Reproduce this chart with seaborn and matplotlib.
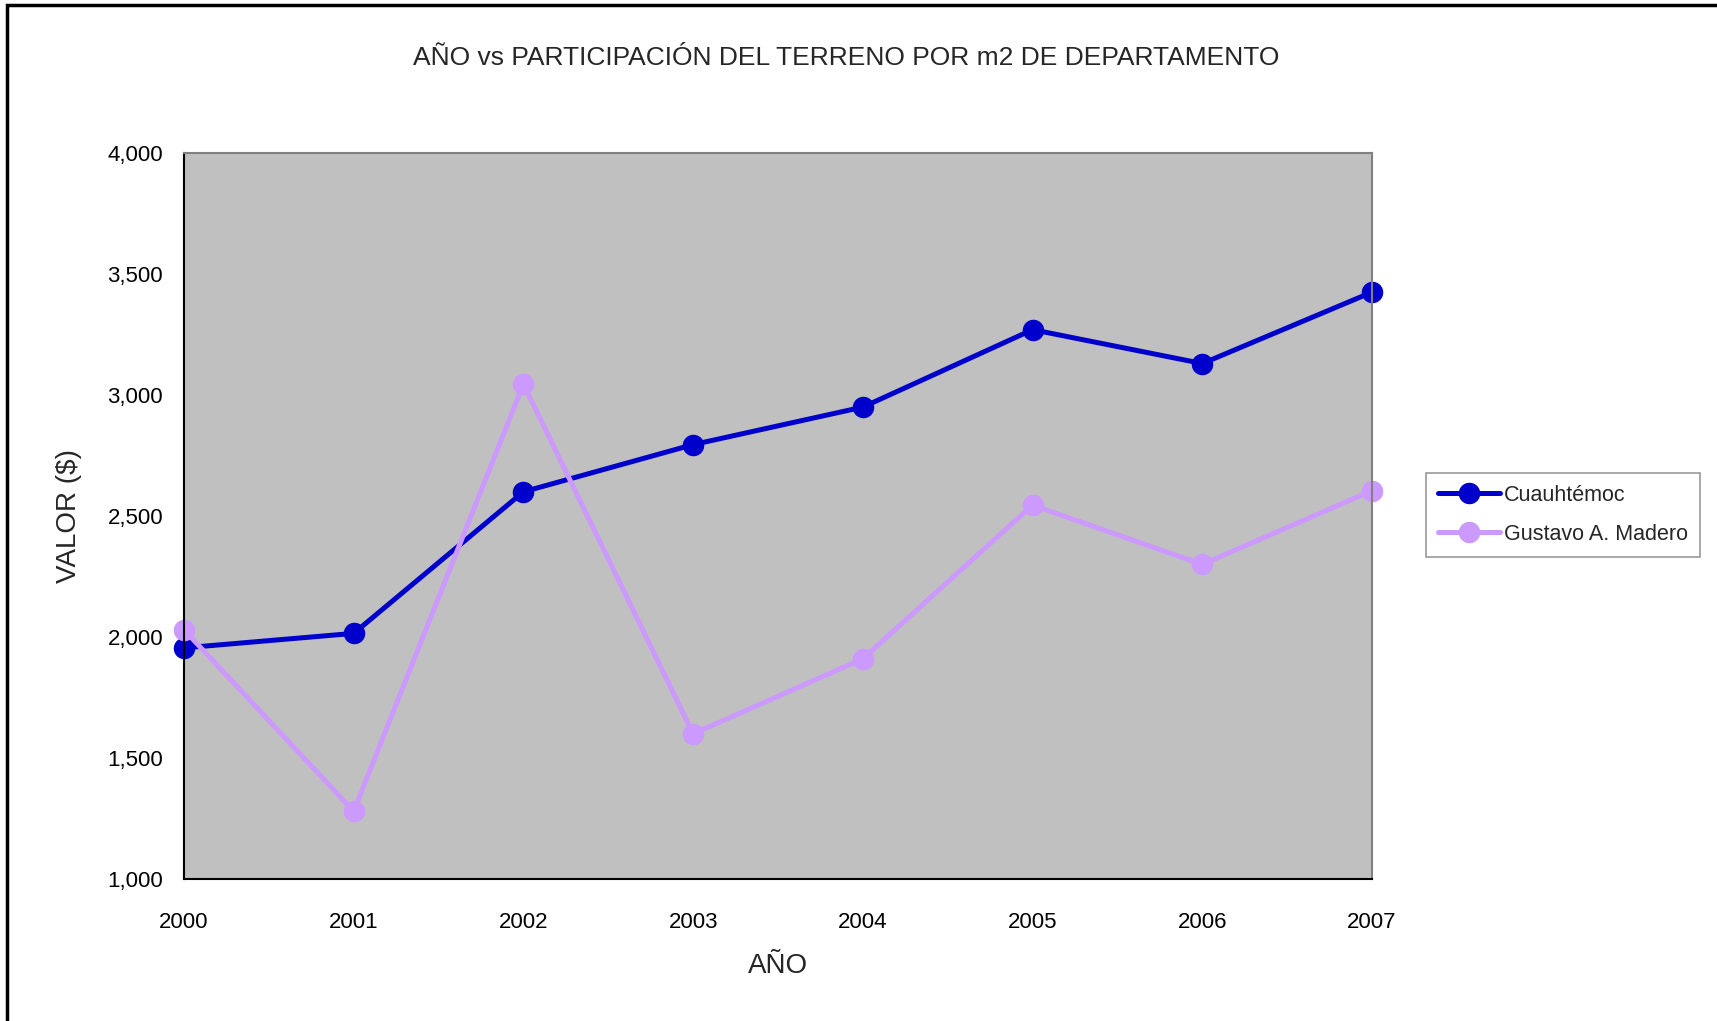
import pandas as pd
import matplotlib
matplotlib.use("Agg")
import matplotlib.pyplot as plt
import seaborn as sns
from matplotlib.patches import Rectangle
from matplotlib.ticker import FuncFormatter

# Data
years = [2000, 2001, 2002, 2003, 2004, 2005, 2006, 2007]
cuauhtemoc = [1955, 2015, 2600, 2795, 2950, 3270, 3130, 3425]
gustavo = [2030, 1280, 3045, 1600, 1910, 2545, 2300, 2605]
series_names = ["Cuauhtémoc", "Gustavo A. Madero"]
colors = ["#0000CC", "#CC99FF"]

df = pd.DataFrame({
    "AÑO": years * 2,
    "VALOR": cuauhtemoc + gustavo,
    "serie": [series_names[0]] * len(years) + [series_names[1]] * len(years),
})

sns.set_style("white")
plt.rcParams["font.family"] = ["Liberation Sans Narrow", "Liberation Sans", "DejaVu Sans"]

fig = plt.figure(figsize=(17.17, 10.21), dpi=100)
ax = fig.add_axes([184 / 1717, 1 - 879 / 1021, (1372 - 184) / 1717, (879 - 153) / 1021])
ax.set_facecolor("#C0C0C0")

sns.lineplot(data=df, x="AÑO", y="VALOR", hue="serie", palette=colors,
             marker="o", markersize=15.5, markeredgewidth=0, linewidth=3.6,
             ax=ax, clip_on=False)

ax.set_xlim(2000, 2007)
ax.set_ylim(1000, 4000)
ax.set_xticks(years)
ax.set_yticks([1000, 1500, 2000, 2500, 3000, 3500, 4000])
ax.yaxis.set_major_formatter(FuncFormatter(lambda v, p: f"{int(v):,}"))
ax.tick_params(axis="both", direction="out", length=7, width=1.2, colors="#555555",
               labelcolor="black", labelsize=16)
ax.tick_params(axis="x", pad=17)
ax.tick_params(axis="y", pad=8)

for side in ["left", "bottom"]:
    ax.spines[side].set_color("black")
    ax.spines[side].set_linewidth(1.5)
for side in ["top", "right"]:
    ax.spines[side].set_color("#808080")
    ax.spines[side].set_linewidth(1.5)

ax.set_xlabel("AÑO", fontsize=20, labelpad=14)
ax.set_ylabel("VALOR ($)", fontsize=20, labelpad=18)
fig.text(846 / 1717, 1 - 58 / 1021,
         "AÑO vs PARTICIPACIÓN DEL TERRENO POR m2 DE DEPARTAMENTO",
         fontsize=19, ha="center", va="center")

handles, labels = ax.get_legend_handles_labels()
leg = ax.legend(handles, labels, loc="upper left",
                bbox_to_anchor=(1415 / 1717, 1 - 462 / 1021),
                bbox_transform=fig.transFigure, fontsize=15.5, frameon=True,
                fancybox=False, edgecolor="#808080", handlelength=2.9,
                borderpad=0.55, labelspacing=0.85, handletextpad=0.2)
leg.get_frame().set_linewidth(1.2)

# chart area border (cropped at right and bottom)
fig.patches.append(Rectangle((7 / 1717, -0.1), 1.2, 1.1 - 5 / 1021,
                             transform=fig.transFigure, fill=False,
                             edgecolor="black", linewidth=2.5))

fig.savefig("out.png", dpi=100, facecolor="white")
